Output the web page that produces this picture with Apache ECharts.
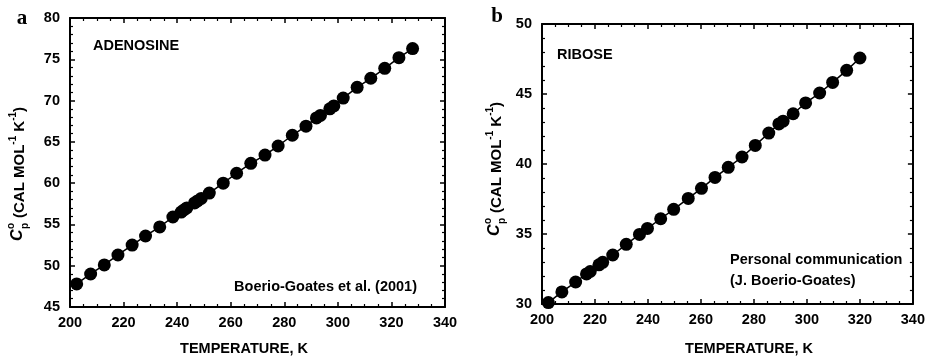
<!DOCTYPE html>
<html>
<head>
<meta charset="utf-8">
<script src="https://cdn.jsdelivr.net/npm/echarts@6/dist/echarts.min.js"></script>
<style>
html,body{margin:0;padding:0;background:#fff;}
#chart{width:928px;height:356px;}
</style>
</head>
<body>
<div id="chart"></div>
<script>
// ---------- data ----------
var adenosineT = [202.5, 207.7, 212.8, 217.9, 223.2, 228.2, 233.5, 238.4, 241.5, 242.5, 243.6, 246.5, 247.6, 249.0, 252.0, 257.2, 262.2, 267.5, 272.8, 277.7, 283.0, 288.1, 292.0, 293.5, 297.0, 298.5, 302.0, 307.2, 312.3, 317.5, 322.8, 327.9];
var adenosineCp = [47.8, 49.0, 50.1, 51.3, 52.5, 53.6, 54.7, 55.9, 56.5, 56.75, 57.0, 57.6, 57.85, 58.15, 58.8, 60.0, 61.2, 62.4, 63.4, 64.5, 65.8, 66.9, 67.9, 68.2, 69.0, 69.35, 70.3, 71.6, 72.7, 73.9, 75.2, 76.3];
var riboseT = [202.4, 207.5, 212.7, 216.8, 218.2, 221.5, 222.9, 226.7, 231.8, 236.8, 239.8, 244.8, 249.7, 255.2, 260.2, 265.3, 270.3, 275.5, 280.5, 285.6, 289.4, 291.0, 294.8, 299.5, 304.8, 309.7, 315.0, 320.0];
var riboseCp = [30.1, 30.86, 31.57, 32.15, 32.32, 32.8, 32.98, 33.5, 34.26, 34.97, 35.4, 36.09, 36.76, 37.54, 38.26, 39.04, 39.76, 40.5, 41.33, 42.21, 42.86, 43.06, 43.59, 44.36, 45.07, 45.83, 46.69, 47.57];

var xTicks = [200, 220, 240, 260, 280, 300, 320, 340];
var yTicksA = [45, 50, 55, 60, 65, 70, 75, 80];
var yTicksB = [30, 35, 40, 45, 50];

var xTitle = 'TEMPERATURE, K';
var panelLabels = ['a', 'b'];
var compoundNames = ['ADENOSINE', 'RIBOSE'];
var sourceA = ['Boerio-Goates et al. (2001)'];
var sourceB = ['Personal communication', '(J. Boerio-Goates)'];

// ---------- helpers ----------
var FONT = '"Liberation Sans", Arial, Helvetica, sans-serif';
function zip(a, b) { return a.map(function (v, i) { return [v, b[i]]; }); }

function makeX(grid, pos, showLabel, ticks) {
  return {
    type: 'value', gridIndex: grid, position: pos,
    min: ticks[0], max: ticks[ticks.length - 1], interval: ticks[1] - ticks[0],
    axisLine: { show: true, onZero: false, lineStyle: { color: '#000', width: 2 } },
    axisTick: { show: true, inside: true, length: 5, lineStyle: { color: '#000', width: 1.5 } },
    minorTick: { show: true, splitNumber: 4, length: 3, lineStyle: { color: '#000', width: 1.2 } },
    splitLine: { show: false },
    axisLabel: { show: showLabel, color: '#000', fontFamily: FONT, fontWeight: 'bold', fontSize: 14.5, margin: 8 }
  };
}
function makeY(grid, pos, showLabel, ticks) {
  return {
    type: 'value', gridIndex: grid, position: pos,
    min: ticks[0], max: ticks[ticks.length - 1], interval: ticks[1] - ticks[0],
    axisLine: { show: true, onZero: false, lineStyle: { color: '#000', width: 2 } },
    axisTick: { show: true, inside: true, length: 5, lineStyle: { color: '#000', width: 1.5 } },
    minorTick: { show: true, splitNumber: 5, length: 3, lineStyle: { color: '#000', width: 1.2 } },
    splitLine: { show: false },
    axisLabel: { show: showLabel, color: '#000', fontFamily: FONT, fontWeight: 'bold', fontSize: 14.5, margin: 10 }
  };
}
function series(xi, yi, data) {
  return {
    type: 'line', xAxisIndex: xi, yAxisIndex: yi, data: data,
    symbol: 'circle', symbolSize: 13, showSymbol: true,
    lineStyle: { color: '#000', width: 1.5 },
    itemStyle: { color: '#000' },
    animation: false, silent: true
  };
}
function txt(x, y, s, opts) {
  opts = opts || {};
  return {
    type: 'text', x: x, y: y, silent: true,
    style: {
      text: s, fill: '#000',
      font: (opts.weight || 'bold') + ' ' + (opts.size || 14.5) + 'px ' + (opts.family || FONT),
      textAlign: opts.align || 'left', textVerticalAlign: 'middle'
    }
  };
}
function yTitle(x, y) {
  return {
    type: 'group', x: x, y: y, rotation: Math.PI / 2, silent: true,
    children: [
      { type: 'text', x: 0, y: 0, style: { text: 'C', fill: '#000', font: 'italic bold 16px ' + FONT, textAlign: 'left', textVerticalAlign: 'middle' } },
      { type: 'text', x: 12, y: -7, style: { text: 'o', fill: '#000', font: 'bold 10px ' + FONT, textAlign: 'left', textVerticalAlign: 'middle' } },
      { type: 'text', x: 12, y: 7, style: { text: 'p', fill: '#000', font: 'bold 10px ' + FONT, textAlign: 'left', textVerticalAlign: 'middle' } },
      { type: 'text', x: 23, y: 0, style: {
          text: '{n|(CAL MOL}{s|-1}{n| K}{s|-1}{n|)}',
          textAlign: 'left', textVerticalAlign: 'middle',
          rich: {
            n: { fill: '#000', fontFamily: FONT, fontWeight: 'bold', fontSize: 15, lineHeight: 19, verticalAlign: 'bottom' },
            s: { fill: '#000', fontFamily: FONT, fontWeight: 'bold', fontSize: 10, lineHeight: 19, verticalAlign: 'top' }
          }
      } }
    ]
  };
}

var chart = echarts.init(document.getElementById('chart'), null, { renderer: 'canvas' });
chart.setOption({
  backgroundColor: '#fff',
  animation: false,
  grid: [
    { left: 70, top: 18, width: 375, height: 289 },
    { left: 542, top: 24, width: 375, height: 280 }
  ],
  xAxis: [
    makeX(0, 'bottom', true, xTicks), makeX(0, 'top', false, xTicks),
    makeX(1, 'bottom', true, xTicks), makeX(1, 'top', false, xTicks)
  ],
  yAxis: [
    makeY(0, 'left', true, yTicksA), makeY(0, 'right', false, yTicksA),
    makeY(1, 'left', true, yTicksB), makeY(1, 'right', false, yTicksB)
  ],
  series: [
    series(0, 0, zip(adenosineT, adenosineCp)),
    series(2, 2, zip(riboseT, riboseCp))
  ],
  graphic: [
    txt(22, 19, panelLabels[0], { family: '"Liberation Serif", "Times New Roman", serif', size: 21, align: 'center' }),
    txt(497, 17, panelLabels[1], { family: '"Liberation Serif", "Times New Roman", serif', size: 21, align: 'center' }),
    txt(244, 349, xTitle, { align: 'center' }),
    txt(749, 349, xTitle, { align: 'center' }),
    txt(93, 46, compoundNames[0]),
    txt(557, 55, compoundNames[1]),
    txt(417, 287, sourceA[0], { align: 'right' }),
    txt(730, 260, sourceB[0]),
    txt(730, 281, sourceB[1]),
    yTitle(18, 241),
    yTitle(495, 236)
  ]
});
</script>
</body>
</html>
